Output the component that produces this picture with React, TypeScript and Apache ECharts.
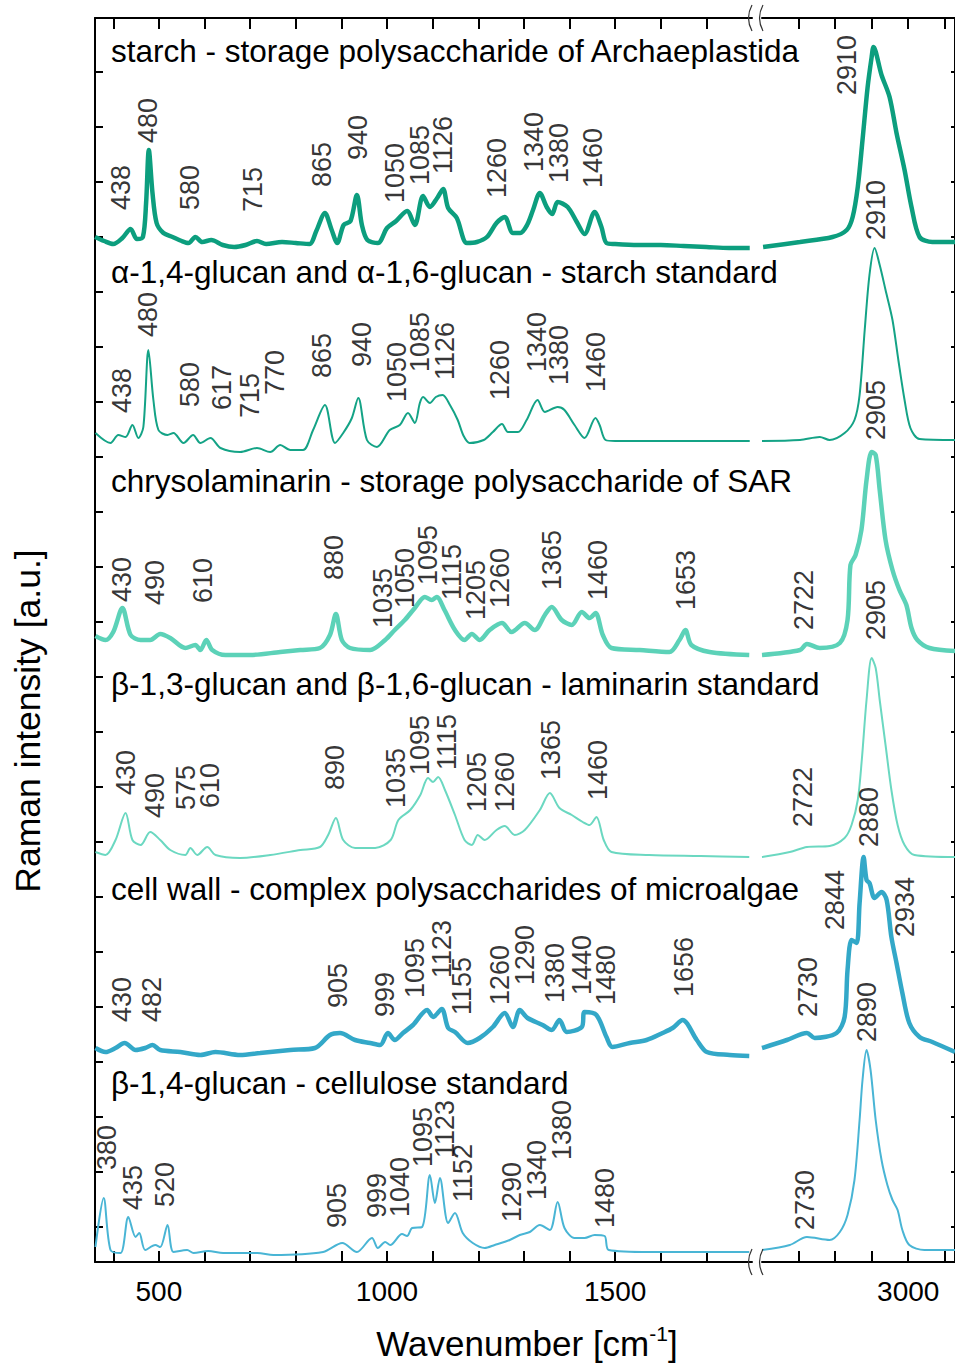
import React, { useEffect, useRef } from "react";
import * as echarts from "echarts";

const FONT = "'Liberation Sans', Arial, Helvetica, sans-serif";

// ---- axes ----
const LEFT_MIN = 360;
const LEFT_MAX = 1800;
const RIGHT_MIN = 2600;
const RIGHT_MAX = 3128;
const LEFT_TICKS = [400, 500, 600, 700, 800, 900, 1000, 1100, 1200, 1300, 1400, 1500, 1600, 1700];
const LEFT_TICK_LABELS = [500, 1000, 1500];
const RIGHT_TICKS = [2700, 2800, 2900, 3000, 3100];
const RIGHT_TICK_LABELS = [3000];
const Y_MIN = 0;
const Y_MAX = 1244;
const Y_TICKS = [35, 90, 145, 200, 255, 310, 365, 420, 475, 530, 585, 640, 695, 750, 805, 860, 915, 970, 1025, 1080, 1135, 1190];

// ---- traces (wavenumber, intensity above own baseline, a.u.) ----
const NAMES = [
  "starch - storage polysaccharide of Archaeplastida",
  "α-1,4-glucan and α-1,6-glucan - starch standard",
  "chrysolaminarin - storage polysaccharide of SAR",
  "β-1,3-glucan and β-1,6-glucan - laminarin standard",
  "cell wall - complex polysaccharides of microalgae",
  "β-1,4-glucan - cellulose standard",
];
const OFFSETS = [1019, 821, 607, 405, 212, 10];
const TITLE_Y = [51, 272, 481, 684, 889, 1083];
const COLORS = ["#0c9e7e", "#14a386", "#5cd2b8", "#6bd8c1", "#33a8c8", "#49b5d5"];
const WIDTHS = [4.5, 2, 4.5, 2, 4.5, 2];

const STARCH_L = [[360,6],[380,2],[400,-1],[420,5],[438,14],[452,4],[465,6],[472,40],[478,93],[486,50],[495,20],[510,10],[530,6],[550,2],[565,0],[580,6],[595,1],[615,3],[640,-2],[665,-4],[690,-2],[715,2],[735,-1],[770,1],[800,0],[830,-1],[845,12],[864,30],[878,14],[891,0],[905,18],[920,22],[934,48],[945,18],[957,3],[980,0],[1000,15],[1020,22],[1044,32],[1061,18],[1079,47],[1094,36],[1110,45],[1123,54],[1134,35],[1153,25],[1175,0],[1197,1],[1219,6],[1240,20],[1258,26],[1276,10],[1292,10],[1307,18],[1320,33],[1335,50],[1350,36],[1362,29],[1374,41],[1396,36],[1416,21],[1433,9],[1455,31],[1470,16],[1481,0],[1500,-1],[1550,-2],[1600,-2],[1650,-3],[1700,-4],[1750,-5],[1795,-5]];
const STARCH_R = [[2603,-4],[2704,1],[2793,6],[2832,13],[2848,26],[2862,56],[2875,103],[2889,156],[2900,186],[2905,196],[2927,168],[2949,146],[2968,110],[2990,73],[3009,36],[3031,6],[3066,1],[3128,1]];

const ALPHA_L = [[361,8],[394,-2],[411,6],[427,4],[442,16],[455,3],[466,14],[477,91],[488,41],[499,11],[519,6],[532,8],[554,-2],[575,6],[591,-2],[613,3],[635,-7],[678,-11],[715,-7],[744,-11],[766,-4],[788,-9],[816,-9],[838,11],[864,36],[886,-2],[904,8],[923,23],[937,43],[956,1],[978,-6],[1006,11],[1028,16],[1046,28],[1061,18],[1072,38],[1079,44],[1094,38],[1107,44],[1122,46],[1138,36],[1155,21],[1168,5],[1181,-2],[1212,1],[1232,9],[1252,17],[1265,9],[1287,9],[1306,21],[1330,41],[1346,29],[1374,34],[1389,31],[1411,16],[1433,3],[1457,23],[1466,16],[1479,1],[1500,0],[1600,0],[1700,0],[1795,0]];
const ALPHA_R = [[2600,0],[2704,1],[2758,4],[2785,1],[2826,8],[2853,21],[2867,46],[2881,111],[2894,166],[2908,193],[2922,176],[2938,151],[2957,121],[2973,81],[2990,41],[3006,13],[3031,2],[3128,1]];

const CHRYS_L = [[361,19],[383,15],[400,23],[420,47],[438,20],[460,15],[481,15],[503,21],[525,17],[558,7],[580,10],[591,5],[604,15],[617,5],[646,0],[700,0],[766,3],[810,5],[853,7],[875,20],[888,41],[901,15],[919,7],[963,5],[996,15],[1017,25],[1039,35],[1061,47],[1083,58],[1098,55],[1109,58],[1126,45],[1149,25],[1170,15],[1186,21],[1203,15],[1225,25],[1252,32],[1273,23],[1302,32],[1324,25],[1346,40],[1361,48],[1383,35],[1405,30],[1427,43],[1444,37],[1457,42],[1473,20],[1492,7],[1554,5],[1619,3],[1641,15],[1654,25],[1667,10],[1707,3],[1794,0]];
const CHRYS_R = [[2600,0],[2704,5],[2723,11],[2758,7],[2813,12],[2834,35],[2842,90],[2856,100],[2872,125],[2886,175],[2900,203],[2911,200],[2922,165],[2938,115],[2957,85],[2976,65],[2995,50],[3009,27],[3025,15],[3058,7],[3128,4]];

const LAM_L = [[361,5],[383,2],[405,17],[427,44],[442,17],[460,12],[481,25],[503,17],[525,7],[558,2],[569,9],[584,2],[606,10],[624,2],[678,-1],[744,2],[810,7],[853,10],[871,22],[888,39],[904,17],[930,9],[974,9],[1008,17],[1025,37],[1051,47],[1073,62],[1090,79],[1101,75],[1112,80],[1127,67],[1149,42],[1170,17],[1186,12],[1199,22],[1214,17],[1240,27],[1258,31],[1280,22],[1302,27],[1335,47],[1357,64],[1378,49],[1405,42],[1429,35],[1444,32],[1459,40],[1475,17],[1492,5],[1575,2],[1687,1],[1794,0]];
const LAM_R = [[2600,0],[2676,5],[2723,10],[2785,11],[2826,19],[2845,32],[2862,57],[2873,97],[2886,157],[2900,199],[2911,189],[2922,157],[2938,112],[2954,67],[2971,32],[2990,12],[3017,2],[3128,0]];

const CELL_L = [[361,2],[383,-2],[405,2],[425,7],[449,0],[470,2],[486,5],[503,0],[547,-2],[591,-5],[624,-2],[678,-5],[722,-3],[788,0],[842,2],[875,15],[897,17],[930,10],[963,7],[985,5],[1002,17],[1017,10],[1035,17],[1057,25],[1088,40],[1101,33],[1120,41],[1134,22],[1149,18],[1177,7],[1203,12],[1232,23],[1258,37],[1276,23],[1291,40],[1308,32],[1341,25],[1361,20],[1378,30],[1394,18],[1427,23],[1433,38],[1459,35],[1481,13],[1494,3],[1532,7],[1569,10],[1604,17],[1626,22],[1648,30],[1679,10],[1701,-2],[1751,-5],[1794,-6]];
const CELL_R = [[2600,2],[2668,10],[2723,17],[2744,12],[2804,17],[2826,33],[2834,80],[2845,110],[2859,107],[2867,147],[2878,193],[2886,170],[2894,167],[2908,152],[2927,158],[2941,150],[2954,113],[2968,87],[2984,57],[3003,27],[3031,13],[3066,8],[3128,-2]];

const CELLU_L = [[361,5],[379,54],[394,2],[416,-1],[433,35],[449,15],[457,19],[470,2],[492,7],[503,5],[519,27],[532,0],[562,2],[576,-1],[608,1],[641,-1],[716,-1],[751,-3],[860,0],[902,9],[934,0],[967,14],[980,4],[996,10],[1007,7],[1033,18],[1044,16],[1055,24],[1077,25],[1094,77],[1105,49],[1116,74],[1134,29],[1149,39],[1166,19],[1188,9],[1214,4],[1236,7],[1269,12],[1291,17],[1313,20],[1335,27],[1357,22],[1374,50],[1389,24],[1411,14],[1433,14],[1455,17],[1477,16],[1486,2],[1575,0],[1794,0]];
const CELLU_R = [[2600,2],[2676,7],[2723,15],[2785,12],[2813,20],[2834,37],[2853,72],[2867,132],[2875,172],[2886,202],[2897,182],[2911,132],[2927,92],[2943,67],[2957,52],[2971,42],[2984,22],[3003,7],[3044,2],[3128,2]];

// ---- peak labels: [wavenumber, absolute a.u. of label start, text] ----
const STARCH_PEAKS_L = [[416,1052,"438"],[477,1119,"480"],[569,1052,"580"],[707,1050,"715"],[858,1075,"865"],[937,1102,"940"],[1018,1059,"1050"],[1072,1077,"1085"],[1122,1088,"1126"],[1242,1064,"1260"],[1323,1090,"1340"],[1378,1079,"1380"],[1451,1074,"1460"]];
const STARCH_PEAKS_R = [[2832,1167,"2910"]];
const ALPHA_PEAKS_L = [[420,849,"438"],[477,925,"480"],[569,855,"580"],[639,852,"617"],[700,844,"715"],[755,867,"770"],[858,884,"865"],[945,895,"940"],[1022,860,"1050"],[1072,890,"1085"],[1127,882,"1126"],[1247,862,"1260"],[1328,890,"1340"],[1378,877,"1380"],[1459,870,"1460"]];
const ALPHA_PEAKS_R = [[2913,1022,"2910"]];
const CHRYS_PEAKS_L = [[420,660,"430"],[492,657,"490"],[597,659,"610"],[883,682,"880"],[991,634,"1035"],[1039,654,"1050"],[1090,677,"1095"],[1142,662,"1115"],[1195,642,"1205"],[1247,654,"1260"],[1361,672,"1365"],[1462,662,"1460"],[1655,652,"1653"]];
const CHRYS_PEAKS_R = [[2714,632,"2722"],[2911,822,"2905"]];
const LAM_PEAKS_L = [[427,467,"430"],[492,444,"490"],[560,452,"575"],[613,454,"610"],[886,472,"890"],[1020,454,"1035"],[1072,487,"1095"],[1131,492,"1115"],[1197,450,"1205"],[1258,450,"1260"],[1359,482,"1365"],[1462,462,"1460"]];
const LAM_PEAKS_R = [[2712,435,"2722"],[2911,622,"2905"]];
const CELL_PEAKS_L = [[420,240,"430"],[486,240,"482"],[892,254,"905"],[996,245,"999"],[1061,264,"1095"],[1120,284,"1123"],[1164,247,"1155"],[1247,257,"1260"],[1302,277,"1290"],[1368,259,"1380"],[1427,267,"1440"],[1481,257,"1480"],[1652,265,"1656"]];
const CELL_PEAKS_R = [[2725,245,"2730"],[2799,332,"2844"],[2894,415,"2880"],[2990,325,"2934"]];
const CELLU_PEAKS_L = [[387,92,"380"],[444,52,"435"],[514,55,"520"],[890,34,"905"],[978,44,"999"],[1028,45,"1040"],[1079,95,"1095"],[1127,104,"1123"],[1166,60,"1152"],[1273,40,"1290"],[1328,62,"1340"],[1383,102,"1380"],[1477,34,"1480"]];
const CELLU_PEAKS_R = [[2717,32,"2730"],[2886,220,"2890"]];

const LEFT_DATA = [STARCH_L, ALPHA_L, CHRYS_L, LAM_L, CELL_L, CELLU_L];
const RIGHT_DATA = [STARCH_R, ALPHA_R, CHRYS_R, LAM_R, CELL_R, CELLU_R];
const PEAKS_LEFT = [STARCH_PEAKS_L, ALPHA_PEAKS_L, CHRYS_PEAKS_L, LAM_PEAKS_L, CELL_PEAKS_L, CELLU_PEAKS_L];
const PEAKS_RIGHT = [STARCH_PEAKS_R, ALPHA_PEAKS_R, CHRYS_PEAKS_R, LAM_PEAKS_R, CELL_PEAKS_R, CELLU_PEAKS_R];

const GRID_TOP = 18;
const GRID_H = 1244;
const L_LEFT = 95;
const L_RIGHT = 752;
const R_LEFT = 762;
const R_RIGHT = 956;

function buildOption(): any {
  const axisLine = { show: true, onZero: false, lineStyle: { color: "#000", width: 2 } };
  const xTick = (vals: number[]) => ({ show: true, inside: true, length: 11, customValues: vals, lineStyle: { color: "#000", width: 2 } });
  const xLabel = (vals: number[]) => ({
    show: true, customValues: vals, fontSize: 28, color: "#000", fontFamily: FONT, margin: 15,
    formatter: (v: number) => String(v),
  });

  const series: any[] = [];
  LEFT_DATA.forEach((d, i) => {
    series.push({
      type: "line", xAxisIndex: 0, yAxisIndex: 0, showSymbol: false, smooth: 0.3, silent: true,
      data: d.map(([x, v]) => [x, v + OFFSETS[i]]),
      lineStyle: { color: COLORS[i], width: WIDTHS[i] }, z: 3,
    });
    series.push({
      type: "line", xAxisIndex: 2, yAxisIndex: 1, showSymbol: false, smooth: 0.3, silent: true,
      data: RIGHT_DATA[i].map(([x, v]) => [x, v + OFFSETS[i]]),
      lineStyle: { color: COLORS[i], width: WIDTHS[i] }, z: 3,
    });
  });
  const labelStyle = {
    show: true, position: "inside", rotate: 90, align: "left", verticalAlign: "middle",
    formatter: "{b}", fontSize: 27, color: "#000", fontFamily: FONT, distance: 0,
  };
  const peakSeries = (pk: any[], xi: number, yi: number) => ({
    type: "scatter", xAxisIndex: xi, yAxisIndex: yi, symbolSize: 1, silent: true, z: 10,
    itemStyle: { color: "rgba(0,0,0,0)" },
    label: labelStyle,
    data: pk.map(([x, y, t]) => ({ value: [x, y], name: t })),
  });
  PEAKS_LEFT.forEach((pk) => series.push(peakSeries(pk, 0, 0)));
  PEAKS_RIGHT.forEach((pk) => series.push(peakSeries(pk, 2, 1)));

  const graphics: any[] = [];
  NAMES.forEach((n, i) => {
    graphics.push({
      type: "text", x: 111, y: TITLE_Y[i], z: 20,
      style: { text: n, fontSize: 31.5, fontFamily: FONT, fill: "#000", align: "left", verticalAlign: "middle" },
    });
  });
  graphics.push({
    type: "text", x: 28, y: 721, rotation: Math.PI / 2, z: 20,
    style: { text: "Raman intensity [a.u.]", fontSize: 35.5, fontFamily: FONT, fill: "#000", align: "center", verticalAlign: "middle" },
  });
  graphics.push({
    type: "text", x: 527, y: 1343, z: 20,
    style: {
      text: "{a|Wavenumber [cm}{b|-1}{a|]}", align: "center", verticalAlign: "middle",
      rich: {
        a: { fontSize: 35, fontFamily: FONT, fill: "#000", color: "#000", lineHeight: 40 },
        b: { fontSize: 21, fontFamily: FONT, fill: "#000", color: "#000", verticalAlign: "top", lineHeight: 40 },
      },
    },
  });
  // axis break marks
  [GRID_TOP, GRID_TOP + GRID_H].forEach((yy) => {
    [750, 761].forEach((xx) => {
      graphics.push({
        type: "bezierCurve", z: 20,
        shape: { x1: xx + 2, y1: yy - 13, x2: xx + 2, y2: yy + 13, cpx1: xx - 5, cpy1: yy },
        style: { stroke: "#333", lineWidth: 1.2, fill: null },
      });
    });
  });

  return {
    animation: false,
    backgroundColor: "#fff",
    grid: [
      { left: L_LEFT, top: GRID_TOP, width: L_RIGHT - L_LEFT, height: GRID_H },
      { left: R_LEFT, top: GRID_TOP, width: R_RIGHT - R_LEFT, height: GRID_H },
    ],
    xAxis: [
      { type: "value", gridIndex: 0, position: "bottom", min: LEFT_MIN, max: LEFT_MAX, axisLine, axisTick: xTick(LEFT_TICKS), axisLabel: xLabel(LEFT_TICK_LABELS), splitLine: { show: false } },
      { type: "value", gridIndex: 0, position: "top", min: LEFT_MIN, max: LEFT_MAX, axisLine, axisTick: xTick(LEFT_TICKS), axisLabel: { show: false }, splitLine: { show: false } },
      { type: "value", gridIndex: 1, position: "bottom", min: RIGHT_MIN, max: RIGHT_MAX, axisLine, axisTick: xTick(RIGHT_TICKS), axisLabel: xLabel(RIGHT_TICK_LABELS), splitLine: { show: false } },
      { type: "value", gridIndex: 1, position: "top", min: RIGHT_MIN, max: RIGHT_MAX, axisLine, axisTick: xTick(RIGHT_TICKS), axisLabel: { show: false }, splitLine: { show: false } },
    ],
    yAxis: [
      { type: "value", gridIndex: 0, position: "left", min: Y_MIN, max: Y_MAX, axisLine, axisTick: { show: true, inside: true, length: 8, customValues: Y_TICKS, lineStyle: { color: "#000", width: 2 } }, axisLabel: { show: false }, splitLine: { show: false } },
      { type: "value", gridIndex: 1, position: "right", min: Y_MIN, max: Y_MAX, axisLine, axisTick: { show: true, inside: true, length: 4, customValues: Y_TICKS, lineStyle: { color: "#000", width: 2 } }, axisLabel: { show: false }, splitLine: { show: false } },
    ],
    series,
    graphic: graphics,
  };
}

export default function App() {
  const ref = useRef<HTMLDivElement>(null);
  useEffect(() => {
    if (!ref.current) return;
    const chart = echarts.init(ref.current, null, { renderer: "svg" });
    chart.setOption(buildOption());
    return () => chart.dispose();
  }, []);
  return (
    <div
      ref={ref}
      style={{ position: "fixed", left: 0, top: 0, width: 955, height: 1364, background: "#fff" }}
    />
  );
}
